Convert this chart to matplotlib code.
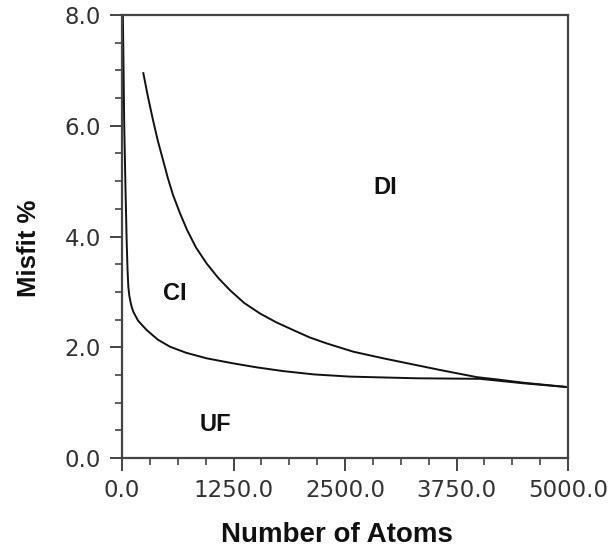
import matplotlib
matplotlib.use("Agg")
import matplotlib.pyplot as plt
from matplotlib.ticker import MultipleLocator, FormatStrFormatter

# Stability boundaries: misfit (%) versus cluster size (number of atoms)
lower_atoms = [10, 25, 40, 52, 62, 71, 82, 95, 110, 127, 180, 277, 400, 538,
               720, 950, 1244, 1500, 1805, 2150, 2556, 3300, 4013, 4496, 5000]
lower_misfit = [8.0, 6.0, 4.8, 3.94, 3.4, 3.09, 2.93, 2.82, 2.72, 2.64, 2.48,
                2.31, 2.14, 2.01, 1.9, 1.80, 1.71, 1.64, 1.57, 1.51, 1.47,
                1.44, 1.43, 1.35, 1.28]

upper_atoms = [239, 290, 348, 400, 460, 515, 572, 650, 729, 830, 950, 1080,
               1211, 1370, 1547, 1730, 1920, 2100, 2294, 2593, 2930, 3565,
               3980, 4200, 4500, 5000]
upper_misfit = [6.95, 6.53, 6.10, 5.74, 5.38, 5.05, 4.75, 4.42, 4.12, 3.80,
                3.51, 3.25, 3.03, 2.80, 2.61, 2.45, 2.31, 2.18, 2.07, 1.92,
                1.80, 1.59, 1.46, 1.42, 1.36, 1.28]

region_labels = ["DI", "CI", "UF"]
region_x = [2954, 589, 1043]
region_y = [4.88, 2.97, 0.61]

x_ticks = [0.0, 1250.0, 2500.0, 3750.0, 5000.0]
y_ticks = [0.0, 2.0, 4.0, 6.0, 8.0]

fig = plt.figure(figsize=(6.14, 5.48), dpi=100)
ax = fig.add_axes([0.1987, 0.1642, 0.7264, 0.8084])

ax.plot(lower_atoms, lower_misfit, color="#111111", lw=1.4,
        solid_joinstyle="round")
ax.plot(upper_atoms, upper_misfit, color="#111111", lw=1.4,
        solid_joinstyle="round")

for lab, x, y in zip(region_labels, region_x, region_y):
    ax.text(x, y, lab, ha="center", va="center", fontsize=17,
            fontweight="bold", family="Liberation Sans", color="#111111")

ax.set_xlim(0, 5000)
ax.set_ylim(0, 8)
ax.set_xticks(x_ticks)
ax.set_yticks(y_ticks)
ax.xaxis.set_minor_locator(MultipleLocator(312.5))
ax.yaxis.set_minor_locator(MultipleLocator(0.5))
ax.xaxis.set_major_formatter(FormatStrFormatter("%.1f"))
ax.yaxis.set_major_formatter(FormatStrFormatter("%.1f"))

spine_color = "#444444"
for s in ax.spines.values():
    s.set_color(spine_color)
    s.set_linewidth(1.6)

ax.tick_params(which="major", direction="out", length=9, width=1.4,
               color=spine_color, pad=6, labelsize=16.5,
               labelcolor="#333333")
ax.tick_params(which="minor", direction="out", length=5, width=1.2,
               color=spine_color)
for lbl in ax.get_xticklabels() + ax.get_yticklabels():
    lbl.set_family("DejaVu Sans")

fig.text(336.5 / 614, 1 - 542 / 548, "Number of Atoms", ha="center",
         va="baseline", fontsize=20, fontweight="bold",
         family="Liberation Sans", color="#111111")
fig.text(29 / 614, 1 - 248 / 548, "Misfit %", ha="center", va="center",
         rotation=90, fontsize=18.5, fontweight="bold",
         family="Liberation Sans", color="#111111")

fig.savefig("out.png", dpi=100, facecolor="white")
